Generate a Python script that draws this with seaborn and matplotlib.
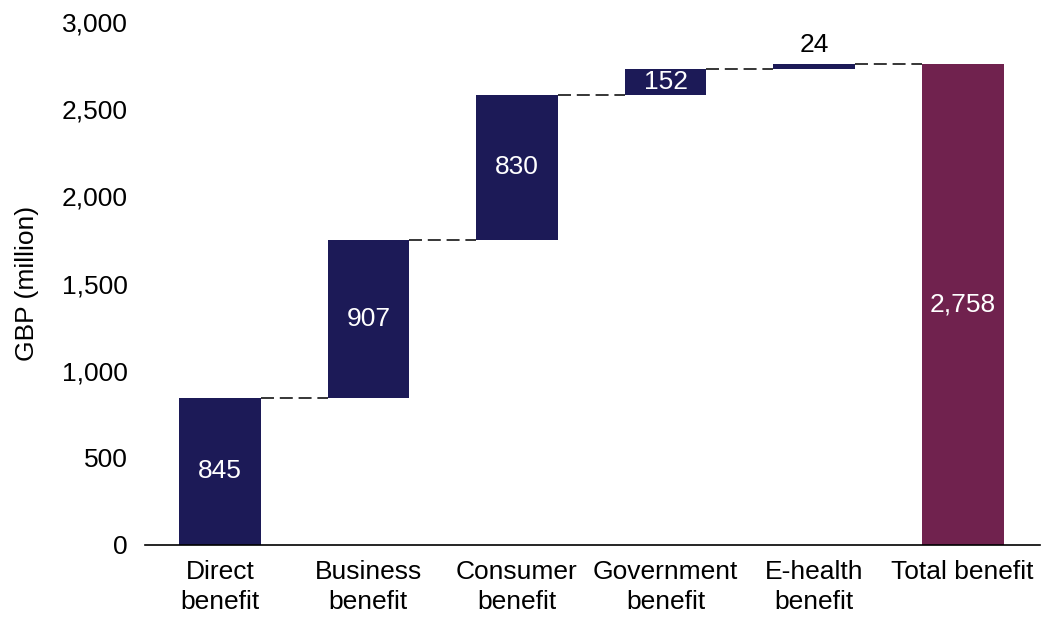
import matplotlib
matplotlib.use("Agg")
import matplotlib.pyplot as plt
import numpy as np
import pandas as pd
import seaborn as sns

# data
categories = ["Direct\nbenefit", "Business\nbenefit", "Consumer\nbenefit",
              "Government\nbenefit", "E-health\nbenefit", "Total benefit"]
values = [845, 907, 830, 152, 24, 2758]
labels = ["845", "907", "830", "152", "24", "2,758"]
kind = ["step", "step", "step", "step", "step", "total"]

navy = "#1C1A57"
maroon = "#70224E"
colors = {"step": navy, "total": maroon}

steps = np.array(values[:-1])
bases = list(np.concatenate([[0], np.cumsum(steps)[:-1]])) + [0]
tops = [b + v for b, v in zip(bases, values)]

df = pd.DataFrame({"cat": categories, "val": values, "base": bases, "kind": kind})

sns.set_style("white")
plt.rcParams["font.family"] = ["Liberation Sans", "DejaVu Sans"]
plt.rcParams["text.color"] = "black"
plt.rcParams["axes.labelcolor"] = "black"
plt.rcParams["xtick.color"] = "black"
plt.rcParams["ytick.color"] = "black"

fig = plt.figure(figsize=(10.42, 6.17), dpi=100)
ax = fig.add_axes([0.139, 0.117, 0.859, 0.847])

w = 0.55
sns.barplot(data=df, x="cat", y="val", bottom=df["base"].values, color=navy,
            width=w, ax=ax, saturation=1, errorbar=None)
for patch, k in zip(ax.patches, kind):
    patch.set_facecolor(colors[k])
    patch.set_edgecolor("none")

for i in range(len(values) - 1):
    ax.plot([i + w / 2, i + 1 - w / 2], [tops[i], tops[i]], color="black",
            lw=1.1, ls=(0, (8.5, 3.8)))

fs = 19
for i, (b, v, t) in enumerate(zip(bases, values, labels)):
    if v < 60:
        ax.text(i, b + v + 45, t, ha="center", va="bottom", fontsize=fs, color="black")
    else:
        ax.text(i, b + v / 2, t, ha="center", va="center", fontsize=fs, color="white")

ax.set_ylim(0, 3000)
ax.set_xlim(-0.505, 5.52)
ax.set_yticks(range(0, 3001, 500))
ax.set_yticklabels([f"{v:,}" for v in range(0, 3001, 500)])
ax.set_ylabel("GBP (million)", fontsize=fs, labelpad=16)
ax.set_xlabel("")
ax.tick_params(axis="y", length=0, pad=12.5, labelsize=fs)
ax.tick_params(axis="x", length=0, pad=11, labelsize=fs)
for lab in ax.get_xticklabels():
    lab.set_linespacing(1.32)
for s in ["top", "right", "left"]:
    ax.spines[s].set_visible(False)
ax.spines["bottom"].set_color("black")
ax.spines["bottom"].set_linewidth(1.2)

fig.savefig("out.png", dpi=100)
